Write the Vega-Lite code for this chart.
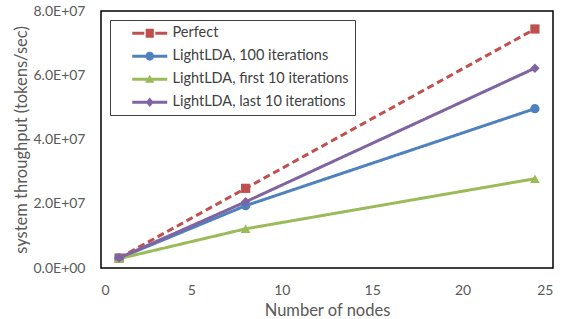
{
  "$schema": "https://vega.github.io/schema/vega-lite/v6.json",
  "width": 452,
  "height": 257,
  "autosize": {"type": "none"},
  "padding": {"left": 101, "top": 11, "right": 8, "bottom": 51},
  "config": {
    "font": "Lato",
    "view": {"stroke": "#000", "strokeWidth": 1.5},
    "axis": {"grid": false, "ticks": false, "domain": false, "labelColor": "#595959", "titleColor": "#595959", "labelFontSize": 14, "titleFontSize": 16.5, "titleFontWeight": "normal", "labelFont": "Lato", "titleFont": "Lato"}
  },
  "data": {
    "values": [
      {"nodes": 1, "throughput": 3100000, "series": "Perfect"},
      {"nodes": 8, "throughput": 24800000, "series": "Perfect"},
      {"nodes": 24, "throughput": 74400000, "series": "Perfect"},
      {"nodes": 1, "throughput": 3050000, "series": "LightLDA, 100 iterations"},
      {"nodes": 8, "throughput": 19400000, "series": "LightLDA, 100 iterations"},
      {"nodes": 24, "throughput": 49600000, "series": "LightLDA, 100 iterations"},
      {"nodes": 1, "throughput": 2900000, "series": "LightLDA, first 10 iterations"},
      {"nodes": 8, "throughput": 12200000, "series": "LightLDA, first 10 iterations"},
      {"nodes": 24, "throughput": 27800000, "series": "LightLDA, first 10 iterations"},
      {"nodes": 1, "throughput": 3100000, "series": "LightLDA, last 10 iterations"},
      {"nodes": 8, "throughput": 20600000, "series": "LightLDA, last 10 iterations"},
      {"nodes": 24, "throughput": 62200000, "series": "LightLDA, last 10 iterations"}
    ]
  },
  "encoding": {
    "x": {"field": "nodes", "type": "quantitative", "scale": {"domain": [0, 25], "nice": false}, "axis": {"values": [0, 5, 10, 15, 20, 25], "title": "Number of nodes", "labelPadding": 15, "titlePadding": 5}},
    "y": {"field": "throughput", "type": "quantitative", "scale": {"domain": [0, 80000000], "nice": false}, "axis": {"values": [0, 20000000, 40000000, 60000000, 80000000], "title": "system throughput (tokens/sec)", "labelPadding": 16, "titlePadding": 4, "labelExpr": "datum.value == 0 ? '0.0E+00' : format(datum.value / 10000000, '.1f') + 'E+07'"}},
    "color": {
      "field": "series", "type": "nominal",
      "scale": {"domain": ["Perfect", "LightLDA, 100 iterations", "LightLDA, first 10 iterations", "LightLDA, last 10 iterations"], "range": ["#C0504D", "#4F81BD", "#9BBB59", "#8064A2"]},
      "legend": {
        "title": null,
        "orient": "none",
        "legendX": 9,
        "legendY": 9,
        "padding": 6,
        "strokeColor": "#404040",
        "fillColor": "#ffffff",
        "labelFontSize": 14.5,
        "labelColor": "#404040",
        "labelFont": "Lato",
        "symbolSize": 64,
        "symbolStrokeWidth": 0,
        "symbolOpacity": 1,
        "rowPadding": 8,
        "labelOffset": 42,
        "labelLimit": 300,
        "symbolType": {"expr": "datum.value == 'Perfect' ? 'M2.25,-0.375 H5.25 V0.375 H2.25 Z M5.6,-1.1 H7.65 V1.1 H5.6 Z M8,-0.375 H11 V0.375 H8 Z' : datum.value == 'LightLDA, 100 iterations' ? 'M2.25,-0.375 H11 V0.375 H2.25 Z M5.525,0 A1.1,1.1 0 1,1 7.725,0 A1.1,1.1 0 1,1 5.525,0 Z' : datum.value == 'LightLDA, first 10 iterations' ? 'M2.25,-0.375 H11 V0.375 H2.25 Z M6.625,-1.1 L7.8,0.9 L5.45,0.9 Z' : 'M2.25,-0.375 H11 V0.375 H2.25 Z M6.625,-1.2 L7.6,0 L6.625,1.2 L5.65,0 Z'"}
      }
    }
  },
  "layer": [
    {
      "mark": {"type": "line", "strokeWidth": 3},
      "encoding": {
        "strokeDash": {"field": "series", "type": "nominal", "scale": {"domain": ["Perfect", "LightLDA, 100 iterations", "LightLDA, first 10 iterations", "LightLDA, last 10 iterations"], "range": [[7, 4], [1, 0], [1, 0], [1, 0]]}, "legend": null}
      }
    },
    {
      "transform": [{"filter": "datum.series == 'Perfect'"}],
      "mark": {"type": "point", "filled": true, "opacity": 1, "size": 85, "shape": "square"}
    },
    {
      "transform": [{"filter": "datum.series == 'LightLDA, 100 iterations'"}],
      "mark": {"type": "point", "filled": true, "opacity": 1, "size": 85, "shape": "circle"}
    },
    {
      "transform": [{"filter": "datum.series == 'LightLDA, first 10 iterations'"}],
      "mark": {"type": "point", "filled": true, "opacity": 1, "size": 95, "shape": "triangle-up"}
    },
    {
      "transform": [{"filter": "datum.series == 'LightLDA, last 10 iterations'"}],
      "mark": {"type": "point", "filled": true, "opacity": 1, "size": 90, "shape": "diamond"}
    }
  ]
}
